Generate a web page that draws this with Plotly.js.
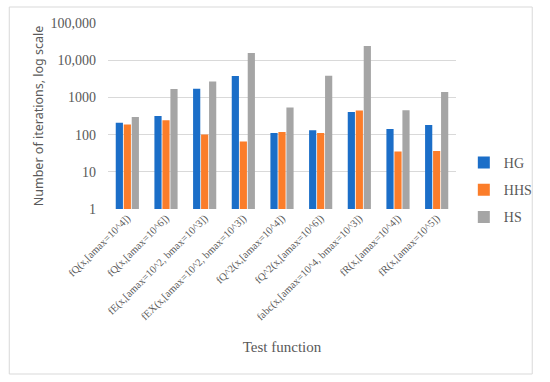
<!DOCTYPE html>
<html>
<head>
<meta charset="utf-8">
<script src="https://cdn.plot.ly/plotly-3.0.1.min.js"></script>
<style>html,body{margin:0;padding:0;background:#fff;}#chart{width:550px;height:382px;}</style>
</head>
<body>
<div id="chart"></div>
<script>
const categories = [
  "fQ(x,[amax=10^4])",
  "fQ(x,[amax=10^6])",
  "fE(x,[amax=10^2, bmax=10^3])",
  "fEX(x,[amax=10^2, bmax=10^3])",
  "fQ^2(x,[amax=10^4])",
  "fQ^2(x,[amax=10^6])",
  "fabc(x,[amax=10^4, bmax=10^3])",
  "fR(x,[amax=10^4])",
  "fR(x,[amax=10^5])"
];
const seriesNames = ["HG", "HHS", "HS"];
const hgValues  = [207, 318, 1710, 3760, 111, 131, 408, 142, 182];
const hhsValues = [186, 242, 100, 65, 118, 111, 442, 35, 36];
const hsValues  = [299, 1680, 2690, 15600, 532, 3830, 24100, 450, 1400];
const yTickVals = [1, 10, 100, 1000, 10000, 100000];
const yTickText = ["1", "10", "100", "1000", "10,000", "100,000"];

const colors = ["#1b6ec8", "#fb7d2a", "#a5a5a5"];
const allValues = [hgValues, hhsValues, hsValues];

const traces = allValues.map((vals, i) => ({
  type: "bar",
  name: seriesNames[i],
  x: categories,
  y: vals,
  marker: {color: colors[i], line: {width: 0}},
  legendgroup: "g" + i,
  hoverinfo: "none"
}));

const L = 108, R = 464, T = 23, B = 209, W = 550, H = 382;
const pw = R - L, ph = B - T;

const layout = {
  width: W, height: H,
  margin: {l: L, r: W - R, t: T, b: H - B, pad: 0},
  paper_bgcolor: "#ffffff",
  plot_bgcolor: "#ffffff",
  barmode: "group",
  bargap: 0.38,
  bargroupgap: 0.1,
  font: {family: "Liberation Serif, serif", color: "#595959"},
  xaxis: {
    type: "category",
    tickangle: -45,
    tickfont: {family: "Liberation Serif, serif", size: 10.5, color: "#595959"},
    showgrid: false,
    showline: false,
    ticks: "",
    title: {text: "Test function", font: {family: "Liberation Serif, serif", size: 15, color: "#595959"}, standoff: 19},
    automargin: false
  },
  yaxis: {
    type: "log",
    range: [0, 5],
    tickvals: yTickVals,
    ticktext: yTickText,
    tickfont: {family: "Liberation Serif, serif", size: 14, color: "#595959"},
    ticklabelstandoff: 11,
    showgrid: true,
    gridcolor: "#d9d9d9",
    gridwidth: 1,
    showline: false,
    zeroline: false,
    ticks: "",
    ticklen: 0,
    title: {text: "Number of iterations, log scale", font: {family: "Noto Sans, sans-serif", size: 12.5, color: "#595959"}, standoff: 4},
    automargin: false
  },
  legend: {
    x: (472 - L) / pw,
    y: (B - 147) / ph,
    xanchor: "left",
    yanchor: "top",
    traceorder: "grouped",
    tracegroupgap: 6,
    font: {family: "Liberation Serif, serif", size: 14, color: "#595959"},
    itemwidth: 30,
    bgcolor: "rgba(0,0,0,0)"
  },
  shapes: [{
    type: "rect",
    xref: "paper", yref: "paper",
    x0: (7 - L) / pw, x1: (542 - L) / pw,
    y0: (B - 374) / ph, y1: (B - 7) / ph,
    line: {color: "#d9d9d9", width: 1},
    fillcolor: "rgba(0,0,0,0)",
    layer: "below"
  }],
  showlegend: true
};

Plotly.newPlot("chart", traces, layout, {displayModeBar: false, staticPlot: true});
</script>
</body>
</html>
